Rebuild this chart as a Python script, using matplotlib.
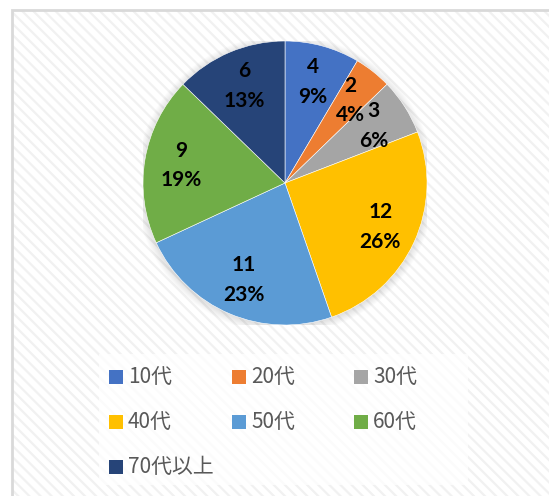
import numpy as np
import matplotlib.pyplot as plt
from matplotlib.patches import Rectangle, Circle

# Data
categories = ["10代", "20代", "30代", "40代", "50代", "60代", "70代以上"]
counts = [4, 2, 3, 12, 11, 9, 6]
percents = [9, 4, 6, 26, 23, 19, 13]
colors = ["#4472C4", "#ED7D31", "#A5A5A5", "#FFC000",
          "#5B9BD5", "#70AD47", "#264478"]

W, H = 549, 496
plt.rcParams["hatch.linewidth"] = 1.6

fig = plt.figure(figsize=(W / 100, H / 100), dpi=100)
fig.patch.set_facecolor("white")


def px(x, y):
    """Pixel (top-left origin) to figure fraction"""
    return x / W, 1 - y / H


# Chart area with diagonal stripes (hatch takes the edge colour)
area = Rectangle(px(12, 600), 700 / W, 590 / H, transform=fig.transFigure,
                 facecolor="white", edgecolor="#F1F1F1", linewidth=0,
                 hatch="\\\\\\", zorder=-2)
fig.patches.append(area)
border = Rectangle(px(12, 600), 700 / W, 590 / H, transform=fig.transFigure,
                   facecolor="none", edgecolor="#D9D9D9", linewidth=2,
                   zorder=-1)
fig.patches.append(border)

# Pie axes
cx, cy, r = 285, 183, 142
ax = fig.add_axes([(cx - r) / W, 1 - (cy + r) / H, 2 * r / W, 2 * r / H])
ax.set_zorder(2)
ax.axis("off")

# soft shadow
for i in range(10):
    ax.add_patch(Circle((0.0, -0.01), 1.0 + 0.006 * i, facecolor="black",
                        alpha=0.012, edgecolor="none", zorder=0))

labels = [f"{c}\n{p}%" for c, p in zip(counts, percents)]
wedges, texts = ax.pie(counts, colors=colors, startangle=90,
                       counterclock=False, radius=1.0, labels=labels,
                       labeldistance=0.74,
                       wedgeprops=dict(edgecolor="white", linewidth=0.4))
ax.set_xlim(-1, 1)
ax.set_ylim(-1, 1)
ax.set_aspect("equal")
for t in texts:
    t.set_horizontalalignment("center")
    t.set_verticalalignment("center")
    t.set_fontsize(15)
    t.set_fontweight("bold")
    t.set_family(["Lato", "DejaVu Sans"])
    t.set_linespacing(1.62)
    t.set_color("black")

# Legend box
lbox = Rectangle(px(99, 485), (468 - 99) / W, (485 - 354) / H,
                 transform=fig.transFigure, facecolor="white",
                 edgecolor="none", alpha=0.75, zorder=1)
fig.patches.append(lbox)

col_x = [109, 232, 354]
row_y = [377, 422, 467]
sq = 14
for i, (lab, col) in enumerate(zip(categories, colors)):
    row, c = divmod(i, 3)
    x0, y0 = col_x[c], row_y[row]
    fig.patches.append(Rectangle(px(x0, y0 + sq / 2), sq / W, sq / H,
                                 transform=fig.transFigure, facecolor=col,
                                 edgecolor="none", zorder=2))
    fx, fy = px(x0 + sq + 5, y0)
    fig.text(fx, fy, lab, ha="left", va="center", fontsize=15,
             color="#595959", family=["Noto Sans CJK JP", "DejaVu Sans"],
             zorder=3)

fig.savefig("out.png", dpi=100)
